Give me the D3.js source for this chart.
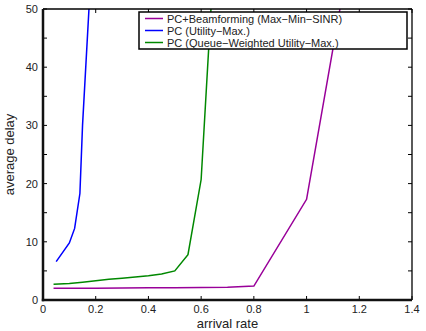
<!DOCTYPE html>
<html>
<head>
<meta charset="utf-8">
<script src="https://cdn.jsdelivr.net/npm/d3@7/dist/d3.min.js"></script>
<style>
  body { margin: 0; background: #fff; }
  svg { display: block; font-family: "Liberation Sans", Arial, sans-serif; }
</style>
</head>
<body>
<svg id="chart" width="426" height="331"></svg>
<script>
// series
const beamX = [0.04, 0.1, 0.2, 0.3, 0.4, 0.5, 0.6, 0.7, 0.8, 1.0, 1.2];
const beamY = [2.0, 2.0, 2.0, 2.05, 2.1, 2.1, 2.15, 2.2, 2.4, 17.3, 69];

const utilX = [0.05, 0.1, 0.12, 0.14, 0.15, 0.2];
const utilY = [6.6, 9.8, 12.3, 18.3, 30, 71];

const queueX = [0.04, 0.1, 0.15, 0.2, 0.25, 0.3, 0.35, 0.4, 0.45, 0.5, 0.55, 0.6, 0.65];
const queueY = [2.7, 2.85, 3.05, 3.3, 3.55, 3.75, 3.95, 4.15, 4.45, 5.0, 7.8, 20.7, 60];

const seriesNames = ['PC+Beamforming (Max\u2212Min\u2212SINR)', 'PC (Utility\u2212Max.)', 'PC (Queue\u2212Weighted Utility\u2212Max.)'];
const seriesColors = ['#990099', '#0000ff', '#008800'];

const xTicks = [0, 0.2, 0.4, 0.6, 0.8, 1, 1.2, 1.4];
const yTicks = [0, 10, 20, 30, 40, 50];
const yMinor = [5, 15, 25, 35, 45];

const svg = d3.select('#chart');
const margin = { top: 9, right: 14, bottom: 31, left: 43 };
const width = 426 - margin.left - margin.right;
const height = 331 - margin.top - margin.bottom;

const x = d3.scaleLinear().domain([0, 1.4]).range([0, width]);
const y = d3.scaleLinear().domain([0, 50]).range([height, 0]);

const g = svg.append('g').attr('transform', 'translate(' + margin.left + ',' + margin.top + ')');

g.append('clipPath').attr('id', 'clip')
  .append('rect').attr('width', width).attr('height', height);

const line = d3.line().x(d => x(d[0])).y(d => y(d[1]));
const data = [
  d3.zip(beamX, beamY),
  d3.zip(utilX, utilY),
  d3.zip(queueX, queueY)
];

g.append('g').attr('clip-path', 'url(#clip)')
  .selectAll('path').data(data).join('path')
  .attr('d', line)
  .attr('fill', 'none')
  .attr('stroke', (d, i) => seriesColors[i])
  .attr('stroke-width', 1.5);

// frame
g.append('line').attr('x1', 0).attr('x2', width).attr('y1', 0).attr('y2', 0)
  .attr('stroke', '#000').attr('stroke-width', 1.3);
g.append('line').attr('x1', width).attr('x2', width).attr('y1', 0).attr('y2', height)
  .attr('stroke', '#000').attr('stroke-width', 1.3);

// ticks inward on all sides
const tickLen = 4;
const allY = yTicks.concat(yMinor);
g.selectAll('.ytl').data(allY).join('line')
  .attr('x1', 0).attr('x2', tickLen).attr('y1', d => y(d)).attr('y2', d => y(d))
  .attr('stroke', '#000').attr('stroke-width', 1);
g.selectAll('.ytr').data(allY).join('line')
  .attr('x1', width - tickLen).attr('x2', width).attr('y1', d => y(d)).attr('y2', d => y(d))
  .attr('stroke', '#000').attr('stroke-width', 1);
g.selectAll('.xtb').data(xTicks).join('line')
  .attr('x1', d => x(d)).attr('x2', d => x(d)).attr('y1', height - tickLen).attr('y2', height)
  .attr('stroke', '#000').attr('stroke-width', 1);
g.selectAll('.xtt').data(xTicks).join('line')
  .attr('x1', d => x(d)).attr('x2', d => x(d)).attr('y1', 0).attr('y2', tickLen)
  .attr('stroke', '#000').attr('stroke-width', 1);

g.append('line').attr('x1', 0).attr('x2', 0).attr('y1', 0).attr('y2', height + 1.2)
  .attr('stroke', '#111').attr('stroke-width', 2.5);
g.append('line').attr('x1', -1.2).attr('x2', width).attr('y1', height).attr('y2', height)
  .attr('stroke', '#111').attr('stroke-width', 2.5);

// tick labels
g.selectAll('.xl').data(xTicks).join('text')
  .attr('x', d => x(d)).attr('y', height + 13)
  .attr('text-anchor', 'middle').attr('font-size', 11).attr('fill', '#222')
  .text(d => d3.format('')(d));
g.selectAll('.yl').data(yTicks).join('text')
  .attr('x', -5).attr('y', d => y(d) + 4)
  .attr('text-anchor', 'end').attr('font-size', 11).attr('fill', '#222')
  .text(d => d);

// axis titles
g.append('text').attr('x', width / 2).attr('y', height + 28)
  .attr('text-anchor', 'middle').attr('font-size', 13).attr('fill', '#222')
  .text('arrival rate');
g.append('text')
  .attr('transform', 'translate(' + (-29) + ',' + (height / 2) + ') rotate(-90)')
  .attr('text-anchor', 'middle').attr('font-size', 13).attr('fill', '#222')
  .text('average delay');

// legend
const lg = svg.append('g').attr('transform', 'translate(139,12)');
lg.append('rect').attr('width', 268).attr('height', 37)
  .attr('fill', '#fff').attr('stroke', '#000').attr('stroke-width', 1.5);
seriesNames.forEach((name, i) => {
  const ly = 6.5 + i * 12;
  lg.append('line').attr('x1', 6).attr('x2', 24).attr('y1', ly).attr('y2', ly)
    .attr('stroke', seriesColors[i]).attr('stroke-width', 1.5);
  lg.append('text').attr('x', 28).attr('y', ly + 4)
    .attr('font-size', 11).attr('fill', '#222').text(name);
});
</script>
</body>
</html>
